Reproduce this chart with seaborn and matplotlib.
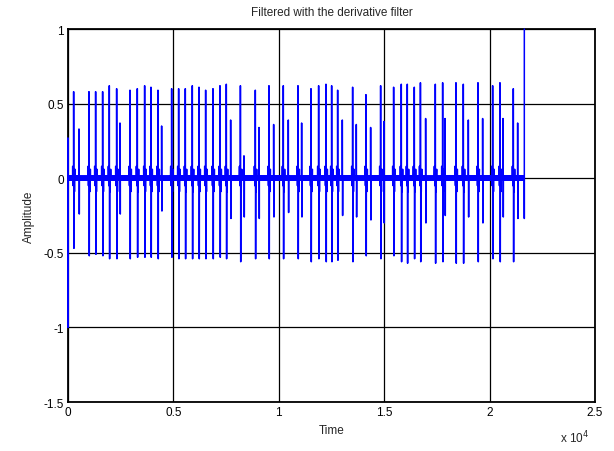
import numpy as np
import pandas as pd
import matplotlib
matplotlib.use("Agg")
import matplotlib.pyplot as plt
import seaborn as sns

# beat positions (samples) and the up / down peak of each derivative spike
beat_times = [269, 996, 1312, 1644, 1961, 2309, 2941, 3289, 3637, 3937, 4269,
              4918, 5250, 5566, 5898, 6214, 6531, 6879, 7211, 7511, 8180,
              8887, 9535, 10215, 10911, 11528, 11891, 12239, 12508, 12793,
              13504, 14136, 14832, 15449, 15812, 16097, 16429, 16720,
              17426, 17774, 18406, 18754, 19450, 20146, 20493, 21126]
beat_up = [0.58, 0.58, 0.58, 0.58, 0.62, 0.60, 0.59, 0.60, 0.62, 0.61, 0.59,
           0.60, 0.60, 0.60, 0.62, 0.61, 0.59, 0.60, 0.62, 0.63, 0.62,
           0.59, 0.62, 0.62, 0.62, 0.60, 0.62, 0.63, 0.62, 0.59,
           0.61, 0.56, 0.62, 0.61, 0.63, 0.63, 0.61, 0.64,
           0.63, 0.64, 0.64, 0.63, 0.64, 0.62, 0.64, 0.60]
beat_down = [-0.47, -0.52, -0.51, -0.52, -0.54, -0.54, -0.54, -0.53, -0.53, -0.53, -0.54,
             -0.53, -0.54, -0.54, -0.54, -0.54, -0.54, -0.54, -0.53, -0.54, -0.56,
             -0.54, -0.54, -0.54, -0.54, -0.56, -0.54, -0.56, -0.56, -0.55,
             -0.56, -0.52, -0.54, -0.52, -0.56, -0.57, -0.54, -0.56,
             -0.57, -0.56, -0.57, -0.57, -0.56, -0.54, -0.56, -0.56]

# smaller spikes between beats
small_times = [522, 2467, 4443, 7717, 8349, 9061, 9757, 10452, 11085, 13014,
               13678, 14358, 14990, 16967, 17884, 18992, 19671, 20636, 21332]
small_up = [0.33, 0.37, 0.35, 0.39, 0.15, 0.34, 0.36, 0.39, 0.37, 0.39,
            0.36, 0.34, 0.38, 0.40, 0.40, 0.39, 0.40, 0.40, 0.37]
small_down = [-0.24, -0.24, -0.22, -0.27, -0.26, -0.27, -0.26, -0.23, -0.26, -0.25,
              -0.26, -0.28, -0.30, -0.30, -0.25, -0.26, -0.30, -0.26, -0.27]

# small wiggles around each beat (offset in samples, value)
lobe_offsets = [-45, -25, 40, 65]
lobe_values = [0.08, -0.05, -0.09, 0.06]

# baseline hum pattern
hum = [0.010, -0.008, 0.012, -0.011, 0.006, -0.012, 0.009, -0.005, 0.011, -0.009, 0.004]

n = 21650
signal = np.resize(np.array(hum), n).astype(float)
signal[1] = 0.27
signal[4] = -1.0
for t, up, dn in zip(beat_times, beat_up, beat_down):
    for off, v in zip(lobe_offsets, lobe_values):
        signal[t + off] = v
    signal[t] = up
    signal[t + 15] = dn
for t, up, dn in zip(small_times, small_up, small_down):
    signal[t] = up
    signal[t + 15] = dn
signal[-2] = -0.27
signal[-1] = 1.0

df = pd.DataFrame({"Time": np.arange(n), "Amplitude": signal})

sns.set_style("white")
plt.rcParams['font.family'] = ['Liberation Sans', 'DejaVu Sans']

fig = plt.figure(figsize=(6.14, 4.52), dpi=100)
ax = fig.add_axes([0.1107, 0.1084, 0.8583, 0.8252])
sns.lineplot(data=df, x="Time", y="Amplitude", estimator=None, sort=False,
             color='#0000ff', linewidth=1.1, ax=ax)
for ln in ax.lines:
    ln.set_zorder(3)
    ln.set_clip_on(False)

ax.set_xlim(0, 25000)
ax.set_ylim(-1.5, 1)
ax.set_xticks([0, 5000, 10000, 15000, 20000, 25000])
ax.set_xticklabels(['0', '0.5', '1', '1.5', '2', '2.5'])
ax.set_yticks([-1.5, -1, -0.5, 0, 0.5, 1])
ax.set_yticklabels(['-1.5', '-1', '-0.5', '0', '0.5', '1'])
ax.tick_params(labelsize=8.5, direction='in', length=3, colors='black', pad=3)
ax.grid(True, color='black', linewidth=0.9)
for s in ax.spines.values():
    s.set_color('black')
    s.set_linewidth(1.3)

ax.set_xlabel('Time', fontsize=8.5, labelpad=4)
ax.set_ylabel('Amplitude', fontsize=8.5, labelpad=6)
ax.set_title('Filtered with the derivative filter', fontsize=8.5, pad=10)
fig.text(0.912, 0.02, r'x 10$^{4}$', fontsize=8.5)

fig.savefig('out.png', dpi=100)
